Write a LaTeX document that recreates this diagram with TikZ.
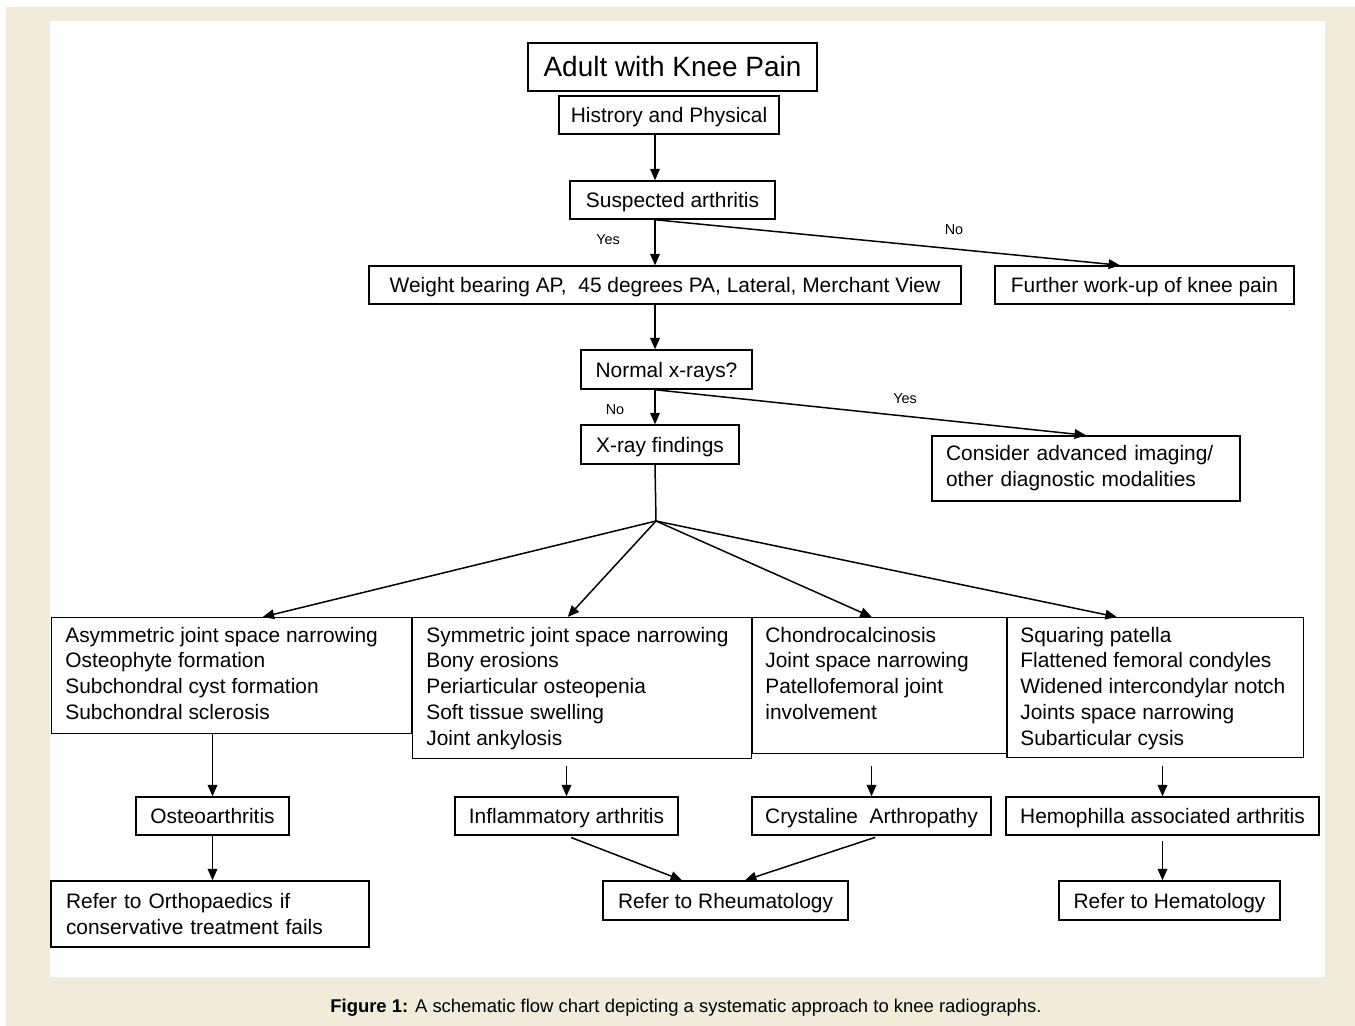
\documentclass[tikz,border=0pt]{standalone}
\usepackage{fontspec}
\setmainfont{Liberation Sans}
\usetikzlibrary{arrows.meta}
\definecolor{pagebeige}{RGB}{242,235,218}
\begin{document}
\begin{tikzpicture}[x=0.02cm,y=-0.02cm,
  box/.style={draw, line width=0.85pt, inner sep=0pt, minimum height=0.76cm, font=\fontsize{11.9}{14.7}\selectfont},
  onebox/.style={box, text height=8.6pt, text depth=0pt},
  findbox/.style={draw, line width=0.85pt, anchor=north west, inner sep=0pt},
  findtext/.style={anchor=north west, align=left, inner xsep=0.28cm, inner ysep=5.5pt, font=\fontsize{11.9}{14.7}\selectfont},
  lbl/.style={font=\fontsize{8.2}{10}\selectfont},
  arr/.style={line width=0.85pt, -{Triangle[length=6.5pt,width=5.5pt]}}]
\useasboundingbox (0,0) rectangle (1355,1026);
\fill[pagebeige] (6,7) rectangle (1355,1026);
\fill[white] (50,21) rectangle (1325,977);
\node[box, minimum width=5.78cm, minimum height=0.96cm, text height=11.5pt, text depth=0.8pt, font=\fontsize{15.9}{19}\selectfont] (adult) at (672.5,67) {Adult with Knee Pain};
\node[onebox, minimum width=4.4cm] (hist) at (669,115) {Histrory and Physical};
\node[onebox, minimum width=4.1cm] (susp) at (672.5,200) {Suspected arthritis};
\node[onebox, minimum width=11.84cm] (xray) at (665,285) {Weight bearing AP,\ \ 45 degrees PA, Lateral, Merchant View};
\node[onebox, minimum width=5.98cm] (further) at (1144.5,285) {Further work-up of knee pain};
\node[onebox, minimum width=3.42cm, minimum height=0.78cm] (normal) at (666.5,369.5) {Normal x-rays?};
\node[onebox, minimum width=3.16cm, minimum height=0.78cm] (findings) at (660,444.5) {X-ray findings};
\node[box, minimum width=6.16cm, minimum height=1.3cm, text width=5.6cm, align=left] (advanced) at (1086,468.5) {Consider advanced imaging/\\other diagnostic modalities};
\node[findbox, minimum width=7.2cm, minimum height=2.32cm] (oafind) at (51,617) {};
\node[findtext] (oatext) at (oafind.north west) {Asymmetric joint space narrowing\\Osteophyte formation\\Subchondral cyst formation\\Subchondral sclerosis};
\node[findbox, minimum width=6.78cm, minimum height=2.82cm] (rafind) at (412,617) {};
\node[findtext] (ratext) at (rafind.north west) {Symmetric joint space narrowing\\Bony erosions\\Periarticular osteopenia\\Soft tissue swelling\\Joint ankylosis};
\node[findbox, minimum width=5.12cm, minimum height=2.72cm] (cpfind) at (751,617) {};
\node[findtext] (cptext) at (cpfind.north west) {Chondrocalcinosis\\Joint space narrowing\\Patellofemoral joint\\involvement};
\node[findbox, minimum width=5.94cm, minimum height=2.8cm] (hafind) at (1006,617) {};
\node[findtext] (hatext) at (hafind.north west) {Squaring patella\\Flattened femoral condyles\\Widened intercondylar notch\\Joints space narrowing\\Subarticular cysis};
\node[onebox, minimum width=3.06cm] (oa) at (212.5,816) {Osteoarthritis};
\node[onebox, minimum width=4.46cm] (ra) at (566.5,816) {Inflammatory arthritis};
\node[onebox, minimum width=4.78cm] (cp) at (871.5,816) {Crystaline\ \ Arthropathy};
\node[onebox, minimum width=6.26cm] (ha) at (1162.5,816) {Hemophilla associated arthritis};
\node[box, minimum width=6.36cm, minimum height=1.32cm, text width=5.76cm, align=left] (ortho) at (210,914) {Refer to Orthopaedics if\\conservative treatment fails};
\node[onebox, minimum width=4.9cm, minimum height=0.78cm] (rheum) at (725.5,900.5) {Refer to Rheumatology};
\node[onebox, minimum width=4.42cm, minimum height=0.78cm] (hema) at (1169.5,900.5) {Refer to Hematology};
\coordinate (stem) at (655,0);
\coordinate (fan) at (656,521);
\draw[arr] (hist.south -| stem) -- (susp.north -| stem);
\draw[arr] (susp.south -| stem) -- (xray.north -| stem);
\draw[arr] (susp.south -| stem) -- ([xshift=-0.49cm]further.north);
\draw[arr] (xray.south -| stem) -- (normal.north -| stem);
\draw[arr] (normal.south -| stem) -- (findings.north -| stem);
\draw[arr] (normal.south -| stem) -- (advanced.north);
\draw[line width=0.85pt] (findings.south -| stem) -- (fan);
\draw[arr] (fan) -- ([xshift=0.62cm]oafind.north);
\draw[arr] (fan) -- ([xshift=-0.29cm]rafind.north);
\draw[arr] (fan) -- ([xshift=-0.16cm]cpfind.north);
\draw[arr] (fan) -- ([xshift=-0.77cm]hafind.north);
\draw[arr] (oafind.south -| oa.north) -- (oa.north);
\draw[arr, shorten <=0.14cm] (rafind.south -| ra.north) -- (ra.north);
\draw[arr, shorten <=0.24cm] (cpfind.south -| cp.north) -- (cp.north);
\draw[arr, shorten <=0.16cm] (hafind.south -| ha.north) -- (ha.north);
\draw[arr] (oa.south) -- (ortho.north -| oa.south);
\draw[arr, shorten <=0.1cm] (ra.south) -- ([xshift=-0.87cm]rheum.north);
\draw[arr, shorten <=0.1cm] ([xshift=0.17cm]cp.south) -- ([xshift=0.39cm]rheum.north);
\draw[arr, shorten <=0.1cm] (ha.south) -- (hema.north -| ha.south);
\node[lbl] (yes1) at (608,240) {Yes};
\node[lbl] (no1) at (954,230) {No};
\node[lbl] (no2) at (615,410) {No};
\node[lbl] (yes2) at (905,399) {Yes};
\node[font=\fontsize{10.5}{12}\selectfont] (caption) at (686,1008) {\textbf{Figure 1:} A schematic flow chart depicting a systematic approach to knee radiographs.};
\end{tikzpicture}
\end{document}
